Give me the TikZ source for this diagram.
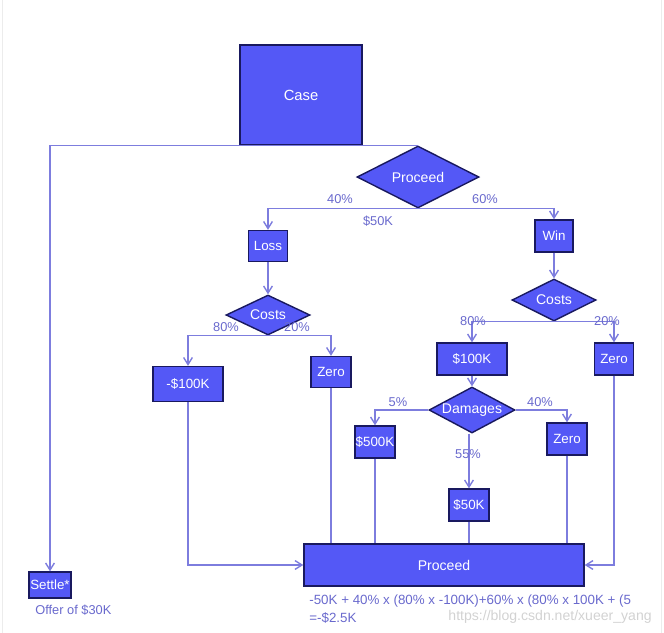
\documentclass[tikz,border=0pt]{standalone}
\usepackage{fontspec}
\setmainfont{Liberation Sans}
\usepackage{tikz}
\usetikzlibrary{shapes,arrows,positioning,calc,arrows.meta}

\definecolor{boxblue}{RGB}{84,88,246}
\definecolor{boxedge}{RGB}{25,25,95}
\definecolor{linkblue}{RGB}{125,125,222}
\definecolor{labblue}{RGB}{105,105,205}

\tikzset{
    box/.style={draw=boxedge, fill=boxblue, thick, text=white, inner sep=0pt, font=\fontsize{7.6}{9}\selectfont},
    choice/.style={diamond, aspect=2, draw=boxedge, fill=boxblue, thick, text=white, inner sep=0pt, font=\fontsize{8}{9}\selectfont},
    link/.style={draw=linkblue, thick},
    arr/.style={link, -{Straight Barb[length=4pt,width=5pt]}},
    pct/.style={text=labblue, inner sep=0pt, font=\fontsize{7.3}{9}\selectfont}
}

\begin{document}
\begin{tikzpicture}[x=0.02cm, y=-0.02cm]
            \useasboundingbox (0,0) rectangle (664,633);
            \draw[gray!15] (2,0) -- (2,633);
            \draw[gray!15] (661,0) -- (661,633);

            % Top
            \node[box, minimum width=2.44cm, minimum height=2cm, font=\fontsize{8.4}{9}\selectfont] (case) at (301,95) {Case};
            \node[choice, minimum width=2.44cm, minimum height=1.24cm] (proc) at (418,177) {Proceed};
            \node[box, minimum width=0.84cm, minimum height=0.52cm] (settle) at (50,585) {Settle*};
            \node[pct, anchor=west] (offer) at (35,610) {Offer of \$30K};

            % Loss branch
            \node[box, minimum width=0.78cm, minimum height=0.62cm] (loss) at (268,246) {Loss};
            \node[choice, minimum width=1.68cm, minimum height=0.8cm] (costsL) at (268,315) {Costs};
            \node[box, minimum width=1.4cm, minimum height=0.7cm] (negK) at (188,384) {-\$100K};
            \node[box, minimum width=0.8cm, minimum height=0.62cm] (zeroL) at (331,372) {Zero};

            % Win branch
            \node[box, minimum width=0.76cm, minimum height=0.64cm] (win) at (554,236) {Win};
            \node[choice, minimum width=1.68cm, minimum height=0.84cm] (costsR) at (554,300) {Costs};
            \node[box, minimum width=1.4cm, minimum height=0.64cm] (hundK) at (472,359) {\$100K};
            \node[box, minimum width=0.78cm, minimum height=0.64cm] (zeroR) at (614,359) {Zero};
            \node[choice, minimum width=1.72cm, minimum height=0.92cm] (dmg) at (472,410) {Damages};
            \node[box, minimum width=0.8cm, minimum height=0.64cm] (fiveh) at (375,442) {\$500K};
            \node[box, minimum width=0.8cm, minimum height=0.64cm] (zeroD) at (567,439) {Zero};
            \node[box, minimum width=0.8cm, minimum height=0.64cm] (fiftyK) at (469,505) {\$50K};

            % Bottom
            \node[box, minimum width=5.6cm, minimum height=0.84cm, font=\fontsize{8}{9}\selectfont] (final) at (444,565) {Proceed};
            \node[pct, anchor=north west, align=left, font=\fontsize{7.6}{10.5}\selectfont] (calc) at (309,594)
                {-50K + 40\% x (80\% x -100K)+60\% x (80\% x 100K + (5\\=-\$2.5K};
            \node[text=gray!35, inner sep=0pt, font=\fontsize{8}{9}\selectfont, anchor=east] (mark) at (652,617) {https://blog.csdn.net/xueer\_yang};

            % Connectors
            \draw[arr] (proc.north) -| (settle.north);
            \draw[arr] (proc.south) -| (loss.north);
            \draw[arr] (proc.south) -| (win.north);
            \draw[arr] (loss) -- (costsL);
            \draw[arr] (win) -- (costsR);
            \draw[arr] (costsL.south) -| (negK.north);
            \draw[arr] (costsL.south) -| (zeroL.north);
            \draw[arr] (costsR.south) -| (hundK.north);
            \draw[arr] (costsR.south) -| (zeroR.north);
            \draw[arr] (hundK) -- (dmg);
            \draw[arr] (dmg.west) -| (fiveh.north);
            \draw[arr] (dmg.east) -| (zeroD.north);
            \draw[arr] (dmg.south -| fiftyK.north) -- (fiftyK.north);
            \draw[arr] (negK.south) |- (final.west);
            \draw[arr] (zeroR.south) |- (final.east);
            \foreach \n in {zeroL, fiveh, fiftyK, zeroD} {
                \draw[link] (\n.south) -- (\n.south |- final.north);
            }

            % Percentages
            \node[pct] (p40) at (340,199) {40\%};
            \node[pct] (p60) at (485,199) {60\%};
            \node[pct] (k50) at (378,221) {\$50K};
            \node[pct] (lc80) at (226,327) {80\%};
            \node[pct] (lc20) at (297,327) {20\%};
            \node[pct] (rc80) at (473,321) {80\%};
            \node[pct] (rc20) at (607,321) {20\%};
            \node[pct] (d5) at (398,402) {5\%};
            \node[pct] (d40) at (540,402) {40\%};
            \node[pct] (d55) at (468,454) {55\%};
        \end{tikzpicture}
\end{document}
